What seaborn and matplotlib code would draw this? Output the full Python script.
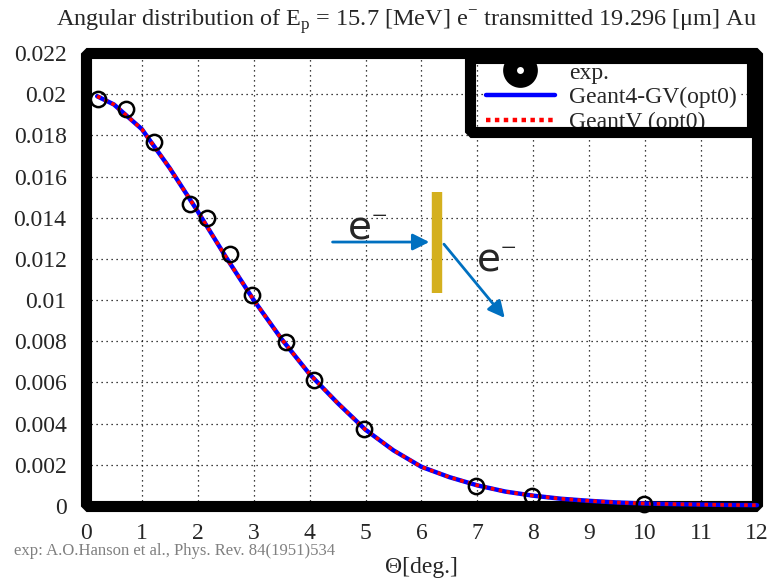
import numpy as np
import pandas as pd
import matplotlib
matplotlib.use("Agg")
import matplotlib.pyplot as plt
from matplotlib.patches import Rectangle
from matplotlib.lines import Line2D
import seaborn as sns

# ---- data ----
exp_theta = [0.21, 0.72, 1.22, 1.86, 2.16, 2.58, 2.97, 3.58, 4.08, 4.97, 6.98, 7.98, 9.98]
exp_value = [0.01976, 0.01927, 0.01767, 0.01466, 0.01398, 0.01223, 0.01024, 0.00796,
             0.00612, 0.00374, 0.00097, 0.00049, 0.00010]

sim_theta = [0.2, 0.5, 1.0, 1.5, 2.0, 2.5, 3.0, 3.5, 4.0, 4.5, 5.0, 5.5, 6.0, 6.5,
             7.0, 7.5, 8.0, 8.5, 9.0, 9.5, 10.0, 10.5, 11.0, 11.5, 12.0]
g4_value = [0.0199, 0.0195, 0.0183, 0.0164, 0.0143, 0.0121, 0.0100, 0.0081, 0.0064,
            0.0050, 0.0037, 0.0027, 0.0019, 0.0014, 0.0010, 0.0007, 0.0005, 0.00035,
            0.00025, 0.00017, 0.00012, 0.00009, 0.00007, 0.00005, 0.00004]
gv_value = list(g4_value)

x_ticks = list(range(0, 13))
y_ticks = [0, 0.002, 0.004, 0.006, 0.008, 0.01, 0.012, 0.014, 0.016, 0.018, 0.02, 0.022]
y_tick_labels = ["0", "0.002", "0.004", "0.006", "0.008", "0.01", "0.012", "0.014",
                 "0.016", "0.018", "0.02", "0.022"]

sns.set_style("white")
plt.rcParams["font.family"] = ["Liberation Serif", "DejaVu Serif"]
plt.rcParams["mathtext.fontset"] = "custom"
plt.rcParams["mathtext.rm"] = "Liberation Serif"

fig = plt.figure(figsize=(7.69, 5.80), dpi=100)
ax = fig.add_axes([0.1118, 0.1276, 0.8726, 0.7810])

df_g4 = pd.DataFrame({"theta": sim_theta, "val": g4_value})
df_gv = pd.DataFrame({"theta": sim_theta, "val": gv_value})
df_exp = pd.DataFrame({"theta": exp_theta, "val": exp_value})

sns.lineplot(data=df_g4, x="theta", y="val", ax=ax, color="#0000ff", lw=3.2,
             zorder=4, clip_on=False)
sns.lineplot(data=df_gv, x="theta", y="val", ax=ax, color="#ff0000", lw=2.6,
             linestyle=(0, (1.0, 1.2)), zorder=5, clip_on=False)
ax.plot(exp_theta, exp_value, ls="none", marker="o", ms=11, mfc="none",
        mec="black", mew=1.8, zorder=6, clip_on=False)

ax.set_xlim(0, 12)
ax.set_ylim(0, 0.022)
ax.set_xticks(x_ticks)
ax.set_xticklabels([str(t) for t in x_ticks])
ax.set_yticks(y_ticks)
ax.set_yticklabels(y_tick_labels)
ax.tick_params(axis="both", length=0, labelsize=17)
ax.tick_params(axis="x", pad=12)
ax.tick_params(axis="y", pad=14)
ax.grid(True, color="black", linestyle=(0, (1, 3)), linewidth=0.9)
for s in ax.spines.values():
    s.set_visible(False)

frame = Rectangle((0, 0), 1, 1, transform=ax.transAxes, fill=False, lw=8,
                  edgecolor="black", joinstyle="bevel", clip_on=False, zorder=3)
ax.add_patch(frame)

ax.set_xlabel("")
ax.set_ylabel("")
fig.text(0.5475, 0.022, "Θ[deg.]", ha="center", va="center", fontsize=17)
fig.text(0.528, 0.988, r"Angular distribution of E$_\mathregular{p}$ = 15.7 [MeV] e$^\mathregular{-}$ transmitted 19.296 [μm] Au",
         ha="center", va="top", fontsize=17.5)
fig.text(0.018, 0.05, "exp: A.O.Hanson et al., Phys. Rev. 84(1951)534",
         ha="left", va="center", fontsize=12, color="#808080")

# schematic: foil and electron arrows
ax.plot([6.28, 6.28], [0.01034, 0.01525], color="#d4b01e", lw=7.5,
        solid_capstyle="butt", zorder=7)
ax.annotate("", xy=(6.19, 0.01282), xytext=(4.36, 0.01282),
            arrowprops=dict(arrowstyle="-|>", color="#0070c0", lw=2,
                            mutation_scale=25), zorder=7)
ax.annotate("", xy=(7.52, 0.00903), xytext=(6.37, 0.01282),
            arrowprops=dict(arrowstyle="-|>", color="#0070c0", lw=2,
                            mutation_scale=25), zorder=7)
ax.text(5.03, 0.0135, "e$^{-}$", fontsize=28, ha="center", va="center",
        family=["DejaVu Sans"], zorder=7)
ax.text(7.33, 0.0119, "e$^{-}$", fontsize=28, ha="center", va="center",
        family=["DejaVu Sans"], zorder=7)

# legend
handles = [
    Line2D([], [], ls="none", marker="o", ms=15, mfc="white", mec="black", mew=10),
    Line2D([], [], color="#0000ff", lw=3.2),
    Line2D([], [], color="#ff0000", lw=3.2, linestyle=(0, (1.0, 1.0))),
]
labels = ["exp.", "Geant4-GV(opt0)", "GeantV (opt0)"]
leg = ax.legend(handles, labels, loc="upper left", bbox_to_anchor=(0.593, 0.985),
                fontsize=17, frameon=True, fancybox=False, framealpha=1,
                edgecolor="none", facecolor="white", borderaxespad=0,
                borderpad=0.1, handlelength=2.9, handletextpad=0.6,
                labelspacing=0.13)
leg.set_zorder(8)
box = Rectangle((0.572, 0.826), 0.421, 0.163, transform=ax.transAxes, fill=False,
                lw=8, edgecolor="black", joinstyle="bevel", clip_on=False, zorder=9)
ax.add_patch(box)

fig.savefig("out.png", dpi=100)
